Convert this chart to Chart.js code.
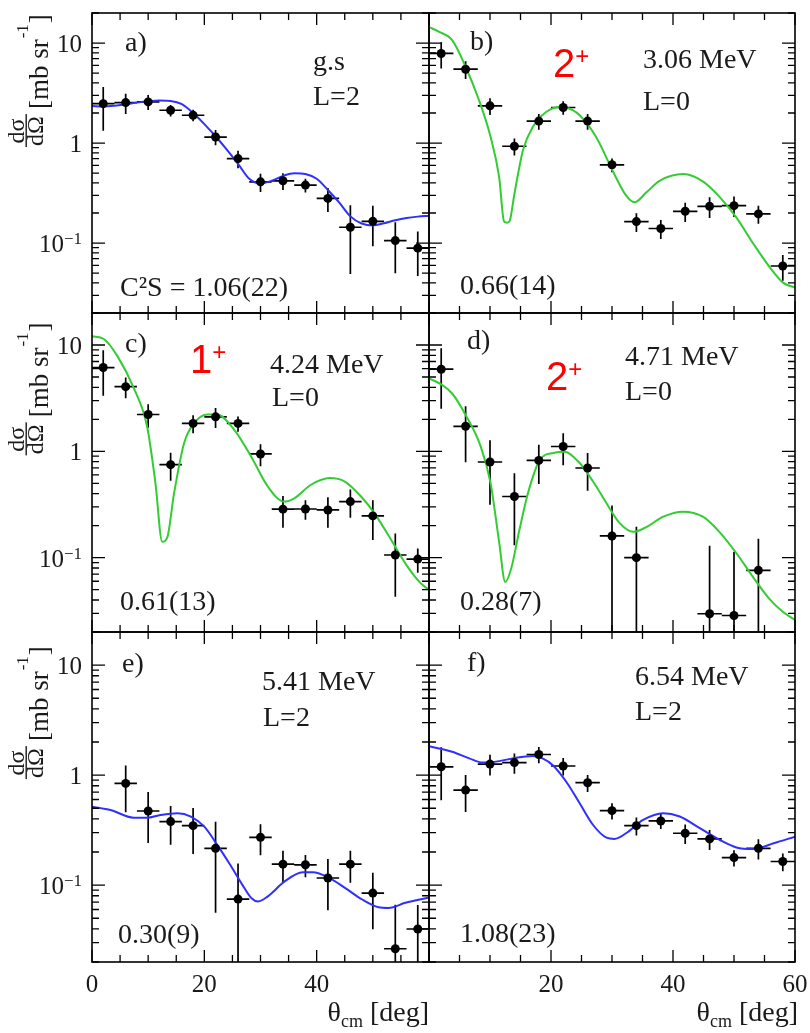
<!DOCTYPE html>
<html>
<head>
<meta charset="utf-8">
<script src="https://cdn.jsdelivr.net/npm/chart.js@4.4.1/dist/chart.umd.min.js"></script>
<style>
  body { margin: 0; background: #fff; }
  #wrap { position: relative; width: 810px; height: 1033px; overflow: hidden; }
  #wrap canvas { position: absolute; left: 0; top: 0; }
</style>
</head>
<body>
<div id="wrap">
  <canvas id="pa" width="810" height="1033"></canvas>
  <canvas id="pb" width="810" height="1033"></canvas>
  <canvas id="pc" width="810" height="1033"></canvas>
  <canvas id="pd" width="810" height="1033"></canvas>
  <canvas id="pe" width="810" height="1033"></canvas>
  <canvas id="pf" width="810" height="1033"></canvas>
</div>
<script>
// --- measured points (theta_cm in deg, dsigma/dOmega in mb/sr, error) ---
const thetaA = [2, 6, 10, 14, 18, 22, 26, 30, 34, 38, 42, 46, 50, 54, 58];
const sigmaA = [2.48, 2.54, 2.58, 2.13, 1.90, 1.15, 0.70, 0.41, 0.42, 0.38, 0.28, 0.144, 0.165, 0.106, 0.089];
const errA   = [1.15, 0.58, 0.44, 0.28, 0.25, 0.20, 0.14, 0.085, 0.08, 0.06, 0.075, 0.095, 0.072, 0.056, 0.042];

const thetaB = [2, 6, 10, 14, 18, 22, 26, 30, 34, 38, 42, 46, 50, 54, 58];
const sigmaB = [7.88, 5.48, 2.36, 0.93, 1.66, 2.27, 1.66, 0.607, 0.164, 0.140, 0.208, 0.233, 0.237, 0.196, 0.059];
const errB   = [2.3, 1.1, 0.45, 0.18, 0.30, 0.35, 0.30, 0.095, 0.035, 0.03, 0.045, 0.055, 0.055, 0.04, 0.017];

const thetaC = [2, 6, 10, 14, 18, 22, 26, 30, 34, 38, 42, 46, 50, 54, 58];
const sigmaC = [6.14, 4.06, 2.22, 0.75, 1.83, 2.11, 1.83, 0.945, 0.286, 0.287, 0.281, 0.337, 0.247, 0.106, 0.097];
const errC   = [2.8, 0.9, 0.55, 0.22, 0.35, 0.45, 0.30, 0.22, 0.095, 0.06, 0.09, 0.10, 0.10, 0.063, 0.025];

const thetaD = [2, 6, 10, 14, 18, 22, 26, 30, 34, 46, 50, 54];
const sigmaD = [5.92, 1.72, 0.794, 0.376, 0.822, 1.11, 0.697, 0.16, 0.10, 0.0297, 0.0286, 0.076];
const errD   = [3.4, 0.93, 0.48, 0.245, 0.33, 0.37, 0.27, 0.15, 0.095, 0.10, 0.085, 0.075];

const thetaE = [6, 10, 14, 18, 22, 26, 30, 34, 38, 42, 46, 50, 54, 58];
const sigmaE = [0.84, 0.472, 0.378, 0.347, 0.216, 0.0746, 0.272, 0.155, 0.153, 0.116, 0.155, 0.0846, 0.0264, 0.0399];
const errE   = [0.38, 0.23, 0.145, 0.155, 0.16, 0.083, 0.085, 0.05, 0.035, 0.057, 0.05, 0.045, 0.04, 0.026];

const thetaF = [2, 6, 10, 14, 18, 22, 26, 30, 34, 38, 42, 46, 50, 54, 58];
const sigmaF = [1.19, 0.731, 1.26, 1.30, 1.54, 1.21, 0.853, 0.475, 0.347, 0.383, 0.296, 0.263, 0.178, 0.216, 0.164];
const errF   = [0.6, 0.27, 0.27, 0.27, 0.26, 0.22, 0.15, 0.08, 0.065, 0.06, 0.06, 0.054, 0.03, 0.045, 0.03];

// --- calculated curves ---
const fitXA = [0, 2, 4, 6, 8, 10, 12, 14, 16, 18, 20, 22, 24, 26, 28, 30, 32, 34, 36, 38, 40, 42, 44, 46, 48, 50, 52, 54, 56, 58, 60];
const fitA  = [2.35, 2.32, 2.36, 2.44, 2.54, 2.62, 2.67, 2.64, 2.45, 2.0, 1.55, 1.17, 0.86, 0.62, 0.44, 0.395, 0.42, 0.47, 0.50, 0.49, 0.44, 0.34, 0.255, 0.185, 0.157, 0.150, 0.158, 0.169, 0.178, 0.184, 0.188];

const fitXB = [0, 1.6, 3.8, 6, 8.2, 10.1, 11.5, 12.3, 12.8, 13.2, 14, 14.8, 15.4, 17, 19.2, 21.4, 22.5, 24.7, 27.4, 30.1, 32.3, 33.7, 35.6, 37.8, 41.7, 45, 47.7, 50.4, 53.2, 55.9, 58.1, 60];
const fitB  = [14.5, 13.0, 10.7, 5.8, 2.68, 1.15, 0.456, 0.165, 0.16, 0.165, 0.31, 0.57, 0.85, 1.45, 2.05, 2.3, 2.27, 1.90, 1.15, 0.53, 0.30, 0.256, 0.32, 0.42, 0.49, 0.41, 0.287, 0.18, 0.098, 0.057, 0.040, 0.036];

const fitXC = [0, 2.1, 4.5, 7.4, 9.8, 11.3, 12.5, 13.4, 14.6, 16.4, 18.2, 20.6, 22.3, 25.3, 28.3, 31.3, 34.2, 36, 39, 42.3, 45, 47.9, 50.3, 53.3, 56.2, 58.6, 60];
const fitC  = [12.1, 11.4, 7.9, 3.97, 1.72, 0.50, 0.141, 0.155, 0.40, 1.2, 1.85, 2.22, 2.22, 1.6, 0.90, 0.467, 0.337, 0.362, 0.485, 0.56, 0.52, 0.376, 0.261, 0.146, 0.082, 0.057, 0.050];

const fitXD = [0, 2, 3.8, 6, 8.5, 10.1, 11.5, 12.5, 13.5, 14.8, 16.2, 18.2, 20.4, 22.2, 24.7, 26.9, 29.1, 31.3, 33.5, 35.7, 38.4, 41.6, 44.9, 47.6, 50.4, 53.1, 55.8, 58, 60];
const fitD  = [4.85, 4.27, 3.5, 2.2, 1.1, 0.50, 0.140, 0.059, 0.08, 0.18, 0.40, 0.835, 0.965, 0.99, 0.776, 0.52, 0.325, 0.21, 0.175, 0.195, 0.243, 0.271, 0.243, 0.175, 0.11, 0.066, 0.041, 0.031, 0.026];

const fitXE = [0, 3.3, 7.4, 9.8, 12.2, 15.2, 17.6, 20, 22.3, 24.6, 26.8, 28.4, 29.6, 31.3, 34.3, 37.5, 39.3, 42.3, 45.1, 48.1, 51, 52.8, 55.8, 60];
const fitE  = [0.517, 0.482, 0.41, 0.41, 0.434, 0.45, 0.42, 0.34, 0.232, 0.153, 0.10, 0.076, 0.071, 0.079, 0.108, 0.131, 0.131, 0.116, 0.094, 0.074, 0.063, 0.062, 0.069, 0.077];

const fitXF = [0, 3.8, 6.6, 8.8, 11.5, 14.3, 17, 18.6, 20.3, 22.5, 24.7, 26.9, 29.1, 30.4, 32.3, 35.1, 38.4, 41.1, 44.4, 47.7, 50.4, 53.2, 56.5, 60];
const fitF  = [1.83, 1.63, 1.42, 1.30, 1.34, 1.44, 1.49, 1.42, 1.23, 0.87, 0.554, 0.352, 0.27, 0.263, 0.296, 0.391, 0.45, 0.42, 0.329, 0.257, 0.22, 0.213, 0.24, 0.276];

// --- axis ticks ---
const yTickVals = [0.1, 1, 10];
const yTickBase = ['10', '1', '10'];
const yTickExp  = ['\u22121', '', ''];
const xTicksLeft  = [0, 20, 40];
const xTicksRight = [20, 40, 60];

const BLUE = '#2f2fff';
const GREEN = '#33cc33';
const INK = '#1a1a1a';
const SERIF = '"Liberation Serif", "DejaVu Serif", serif';
const X_ERR = 2;

const panels = [
  { id: 'pa', box: [92, 13, 429, 313], th: thetaA, sig: sigmaA, err: errA, fx: fitXA, fy: fitA, color: BLUE,
    yLab: true, xLab: null,
    texts: [['a)', 125, 51], ['g.s', 313, 70], ['L=2', 313, 105], ['C\u00b2S = 1.06(22)', 120, 296]] },
  { id: 'pb', box: [429, 13, 795, 313], th: thetaB, sig: sigmaB, err: errB, fx: fitXB, fy: fitB, color: GREEN,
    yLab: false, xLab: null, red: ['2', 553, 77],
    texts: [['b)', 470, 50], ['3.06 MeV', 643, 68], ['L=0', 643, 110], ['0.66(14)', 460, 294]] },
  { id: 'pc', box: [92, 313, 429, 632], th: thetaC, sig: sigmaC, err: errC, fx: fitXC, fy: fitC, color: GREEN,
    yLab: true, xLab: null, red: ['1', 190, 373],
    texts: [['c)', 125, 352], ['4.24 MeV', 270, 373], ['L=0', 272, 406], ['0.61(13)', 120, 610]] },
  { id: 'pd', box: [429, 313, 795, 632], th: thetaD, sig: sigmaD, err: errD, fx: fitXD, fy: fitD, color: GREEN,
    yLab: false, xLab: null, red: ['2', 546, 390],
    texts: [['d)', 467, 349], ['4.71 MeV', 625, 365], ['L=0', 625, 400], ['0.28(7)', 460, 610]] },
  { id: 'pe', box: [92, 632, 429, 962], th: thetaE, sig: sigmaE, err: errE, fx: fitXE, fy: fitE, color: BLUE,
    yLab: true, xLab: xTicksLeft,
    texts: [['e)', 122, 672], ['5.41 MeV', 262, 690], ['L=2', 263, 726], ['0.30(9)', 118, 943]] },
  { id: 'pf', box: [429, 632, 795, 962], th: thetaF, sig: sigmaF, err: errF, fx: fitXF, fy: fitF, color: BLUE,
    yLab: false, xLab: xTicksRight,
    texts: [['f)', 467, 671], ['6.54 MeV', 635, 685], ['L=2', 635, 720], ['1.08(23)', 460, 942]] }
];

// y axis title, rotated, drawn upwards from yBottom
function drawYTitle(ctx, yBottom) {
  ctx.save();
  ctx.translate(0, yBottom);
  ctx.rotate(-Math.PI / 2);
  ctx.fillStyle = INK;
  ctx.font = '24px ' + SERIF;
  ctx.textAlign = 'center';
  ctx.fillText('d\u03c3', 17, 24);
  ctx.fillText('d\u03a9', 17, 43);
  ctx.fillRect(1, 25.5, 33, 1.4);
  ctx.textAlign = 'left';
  ctx.font = '27px ' + SERIF;
  ctx.fillText('[mb sr', 39, 48);
  let u = 39 + ctx.measureText('[mb sr').width + 1;
  ctx.font = '17px ' + SERIF;
  ctx.fillText('-1', u, 28);
  u += ctx.measureText('-1').width + 1;
  ctx.font = '27px ' + SERIF;
  ctx.fillText(']', u, 48);
  ctx.restore();
}

function drawXTitle(ctx, right, base) {
  ctx.save();
  ctx.fillStyle = INK;
  ctx.textAlign = 'left';
  ctx.font = '28px ' + SERIF;
  const w1 = ctx.measureText('\u03b8').width;
  const w3 = ctx.measureText(' [deg]').width;
  ctx.font = '18px ' + SERIF;
  const w2 = ctx.measureText('cm').width;
  let x0 = right - w1 - w2 - w3;
  ctx.font = '28px ' + SERIF;
  ctx.fillText('\u03b8', x0, base);
  ctx.font = '18px ' + SERIF;
  ctx.fillText('cm', x0 + w1, base + 6);
  ctx.font = '28px ' + SERIF;
  ctx.fillText(' [deg]', x0 + w1 + w2, base);
  ctx.restore();
}

function decor(p) {
  return {
    id: 'decor_' + p.id,
    beforeDatasetsDraw(chart) {
      // error bars
      const { ctx, chartArea: a, scales: { x, y } } = chart;
      ctx.save();
      ctx.beginPath();
      ctx.rect(a.left, a.top, a.right - a.left, a.bottom - a.top);
      ctx.clip();
      ctx.strokeStyle = '#000';
      ctx.lineWidth = 1.7;
      ctx.beginPath();
      p.th.forEach((t, i) => {
        const v = p.sig[i], e = p.err[i];
        const px = x.getPixelForValue(t), py = y.getPixelForValue(v);
        ctx.moveTo(x.getPixelForValue(t - X_ERR), py);
        ctx.lineTo(x.getPixelForValue(t + X_ERR), py);
        ctx.moveTo(px, y.getPixelForValue(v + e));
        ctx.lineTo(px, y.getPixelForValue(Math.max(v - e, 0.001)));
      });
      ctx.stroke();
      ctx.restore();
    },
    afterDraw(chart) {
      const { ctx, chartArea: a, scales: { x, y } } = chart;
      ctx.save();
      ctx.strokeStyle = '#000';
      ctx.lineWidth = 1.6;
      ctx.strokeRect(a.left, a.top, a.right - a.left, a.bottom - a.top);

      // log ticks on both sides, pointing inwards
      ctx.lineWidth = 1.3;
      ctx.beginPath();
      for (let k = -2; k <= 1; k++) {
        for (let m = 1; m <= 9; m++) {
          const v = m * Math.pow(10, k);
          if (v < 0.0199 || v > 20.01) continue;
          const py = y.getPixelForValue(v);
          const len = m === 1 ? 13 : 7;
          ctx.moveTo(a.left, py); ctx.lineTo(a.left + len, py);
          ctx.moveTo(a.right, py); ctx.lineTo(a.right - len, py);
        }
      }
      for (let t = 0; t <= 60; t += 5) {
        const px = x.getPixelForValue(t);
        const len = t % 20 === 0 ? 12 : 7;
        ctx.moveTo(px, a.top); ctx.lineTo(px, a.top + len);
        ctx.moveTo(px, a.bottom); ctx.lineTo(px, a.bottom - len);
      }
      ctx.stroke();

      ctx.fillStyle = INK;
      if (p.yLab) {
        yTickVals.forEach((v, i) => {
          const py = y.getPixelForValue(v);
          ctx.textAlign = 'right';
          if (yTickExp[i]) {
            ctx.font = '17px ' + SERIF;
            const we = ctx.measureText(yTickExp[i]).width;
            ctx.fillText(yTickExp[i], 82, py + 1);
            ctx.font = '25px ' + SERIF;
            ctx.fillText(yTickBase[i], 82 - we, py + 9);
          } else {
            ctx.font = '25px ' + SERIF;
            ctx.fillText(yTickBase[i], 82, py + 9);
          }
        });
        drawYTitle(ctx, y.getPixelForValue(1) + 5);
      }
      if (p.xLab) {
        ctx.font = '25px ' + SERIF;
        ctx.textAlign = 'center';
        p.xLab.forEach(t => ctx.fillText(String(t), x.getPixelForValue(t), 992));
        drawXTitle(ctx, a.right + (p.id === 'pf' ? 3 : 0), 1021);
      }

      ctx.textAlign = 'left';
      ctx.font = '28px ' + SERIF;
      p.texts.forEach(([s, tx, ty]) => ctx.fillText(s, tx, ty));

      if (p.red) {
        const [s, rx, ry] = p.red;
        ctx.fillStyle = '#ff0000';
        ctx.font = '40px "Liberation Sans", Arial, sans-serif';
        ctx.fillText(s, rx, ry);
        const w = ctx.measureText(s).width;
        ctx.font = '24px "Liberation Sans", Arial, sans-serif';
        ctx.fillText('+', rx + w, ry - 13);
      }
      ctx.restore();
    }
  };
}

function makePanel(p) {
  const [l, t, r, b] = p.box;
  const points = p.th.map((v, i) => ({ x: v, y: p.sig[i] }));
  const curve = p.fx.map((v, i) => ({ x: v, y: p.fy[i] }));
  new Chart(document.getElementById(p.id), {
    type: 'scatter',
    data: {
      datasets: [{
        data: points,
        backgroundColor: '#000',
        borderWidth: 0,
        pointRadius: 4.5,
        order: 1
      }, {
        data: curve,
        showLine: true,
        borderColor: p.color,
        borderWidth: 2,
        pointRadius: 0,
        cubicInterpolationMode: 'monotone',
        order: 2
      }]
    },
    options: {
      responsive: false,
      animation: false,
      layout: { padding: { left: l, top: t, right: 810 - r, bottom: 1033 - b } },
      plugins: { legend: { display: false }, tooltip: { enabled: false } },
      scales: {
        x: { type: 'linear', min: 0, max: 60, display: false },
        y: { type: 'logarithmic', min: 0.02, max: 20, display: false }
      }
    },
    plugins: [decor(p)]
  });
}

panels.forEach(makePanel);
</script>
</body>
</html>
